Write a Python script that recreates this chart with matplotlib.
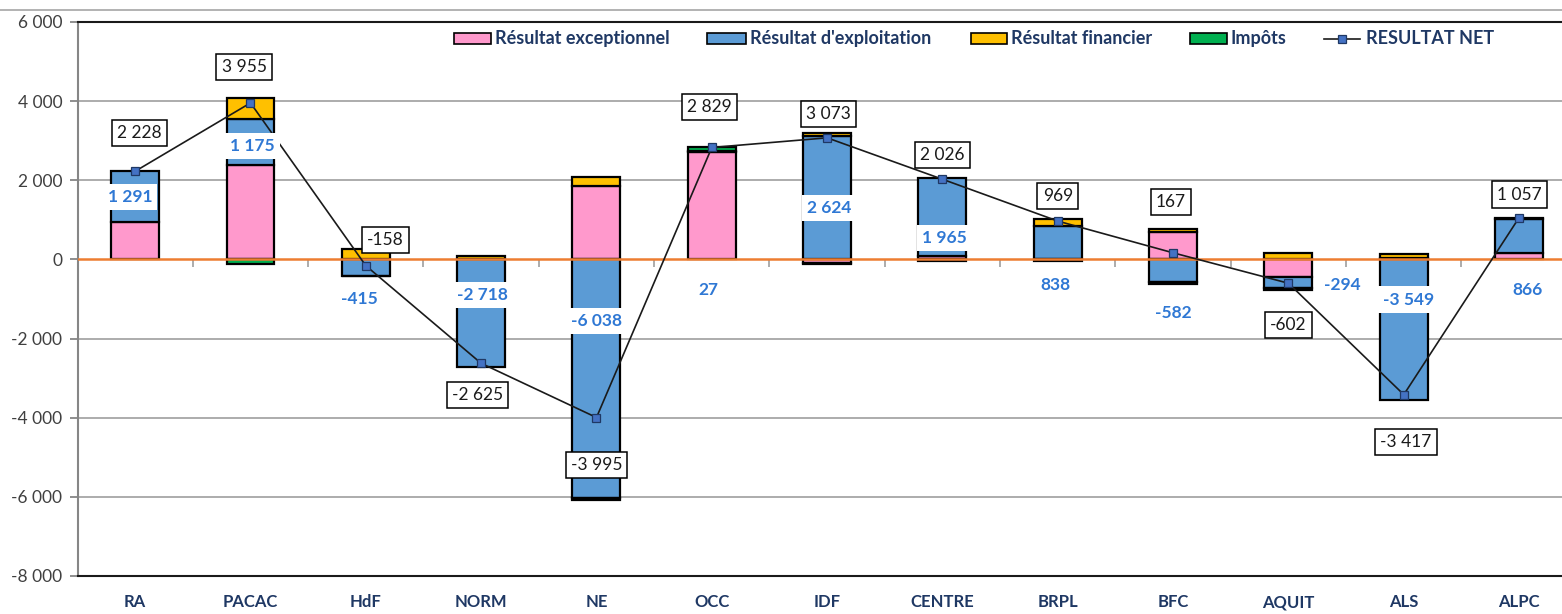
import matplotlib
matplotlib.use("Agg")
import matplotlib.pyplot as plt
import numpy as np
from matplotlib.patches import Rectangle
from matplotlib.lines import Line2D

# ---------------- data ----------------
categories = ["RA", "PACAC", "HdF", "NORM", "NE", "OCC", "IDF", "CENTRE",
              "BRPL", "BFC", "AQUIT", "ALS", "ALPC"]
exceptionnel = [937, 2380, 0, 0, 1850, 2720, -80, 90, 0, 700, -440, 40, 160]
exploitation = [1291, 1175, -415, -2718, -6038, 27, 3126, 1965, 838, -582, -294, -3549, 866]
exploitation_labels = [1291, 1175, -415, -2718, -6038, 27, 2624, 1965, 838, -582, -294, -3549, 866]
financier = [0, 520, 272, 93, 230, 0, 60, 0, 181, 80, 160, 92, 31]
impots = [0, -120, -15, 0, -37, 82, -33, -29, -50, -31, -28, 0, 0]
resultat_net = [2228, 3955, -158, -2625, -3995, 2829, 3073, 2026, 969, 167, -602, -3417, 1057]

# label layout (manual placements as in the original chart)
net_label_y = [3194, 4862, 490, -3427, -5196, 3851, 3675, 2638, 1602, 1451, -1658, -4613, 1640]
net_label_dx = [0.04, -0.055, 0.17, -0.03, 0, -0.02, 0.01, 0, 0, -0.02, 0, 0.02, 0]
expl_label_y = [1577, 2866, -1001, -900, -1557, -773, 1299, 541, -647, -1355, -645, -1013, -773]
expl_label_dx = [-0.045, 0.02, -0.055, 0.015, 0, -0.03, 0.02, 0.02, -0.02, 0, 0.47, 0.04, 0.07]

series_names = ["Résultat exceptionnel", "Résultat d'exploitation", "Résultat financier", "Impôts"]
series_colors = ["#FF99CC", "#5B9BD5", "#FFC000", "#00B050"]

FONT = ["Lato", "DejaVu Sans"]
plt.rcParams['font.family'] = FONT

W, H = 1562, 614
fig = plt.figure(figsize=(W / 100, H / 100), dpi=100)

ax_left_px, ax_top_px, ax_bottom_px = 77.5, 22, 576
cat_step_px = 115.33
ax = fig.add_axes([ax_left_px / W, 1 - ax_bottom_px / H,
                   (W - ax_left_px) / W, (ax_bottom_px - ax_top_px) / H])

n = len(categories)
x = np.arange(n)

# ---------------- stacked bars (Excel-style stacking) ----------------
pos = np.zeros(n)
neg = np.zeros(n)
for vals, col in zip([exceptionnel, exploitation, financier, impots], series_colors):
    v = np.array(vals, dtype=float)
    bottom = np.where(v >= 0, pos, neg)
    mask = v != 0
    ax.bar(x[mask], v[mask], bottom=bottom[mask], width=0.416, color=col,
           edgecolor="black", linewidth=1.6, zorder=2)
    pos += np.where(v > 0, v, 0)
    neg += np.where(v < 0, v, 0)

# zero line
ax.axhline(0, color="#ED7D31", lw=1.8, zorder=3)
# category boundary ticks on zero axis
ax.vlines(np.arange(n + 1) - 0.5, -200, 0, color="#A6A6A6", lw=1.3, zorder=1)

# net result line
ax.plot(x, resultat_net, color="#1A1A1A", lw=1.2, marker="s", ms=5.5,
        mfc="#4472C4", mec="#1F3864", mew=0.9, zorder=4)

# ---------------- labels ----------------
def fmt(v):
    return f"{v:,.0f}".replace(",", " ")

for i in range(n):
    ax.text(x[i] + net_label_dx[i], net_label_y[i], fmt(resultat_net[i]),
            ha="center", va="center", fontsize=12.5, color="#1A1A1A", zorder=6,
            bbox=dict(boxstyle="square,pad=0.3", fc="white", ec="black", lw=1.1))
    ax.text(x[i] + expl_label_dx[i], expl_label_y[i], fmt(exploitation_labels[i]),
            ha="center", va="center", fontsize=12.5, fontweight="bold", color="#2F78D4",
            zorder=5, bbox=dict(boxstyle="square,pad=0.3", fc="white", ec="none"))

# ---------------- axes styling ----------------
ax.set_xlim(-0.5, -0.5 + (W - ax_left_px) / cat_step_px)
ax.set_ylim(-8000, 6000)
yt = np.arange(-8000, 6001, 2000)
ax.set_yticks(yt)
ax.set_yticklabels([fmt(v) for v in yt], fontsize=12.5, color="#404040")
ax.set_xticks(x)
ax.set_xticklabels(categories, fontsize=12, fontweight="bold", color="#1F3864")
ax.tick_params(axis="x", length=0, pad=13)
ax.tick_params(axis="y", length=6, width=1.3, color="#868686", pad=5)

for yv in yt:
    if yv not in (-8000, 0, 6000):
        ax.axhline(yv, color="#A6A6A6", lw=1.3, zorder=0)

ax.spines["right"].set_visible(False)
ax.spines["top"].set_color("#1A1A1A")
ax.spines["top"].set_linewidth(1.5)
ax.spines["bottom"].set_color("#1A1A1A")
ax.spines["bottom"].set_linewidth(1.5)
ax.spines["left"].set_color("#868686")
ax.spines["left"].set_linewidth(1.5)

# outer chart border (top)
fig.add_artist(Line2D([0, 1], [1 - 10 / H, 1 - 10 / H], color="#A6A6A6", lw=1.2,
                      transform=fig.transFigure))

# ---------------- legend (manual) ----------------
def fx(px):
    return px / W

def fy(py):
    return 1 - py / H

leg_items = [(454, 491, 495), (707, 746, 750), (971, 1007, 1011), (1190, 1227, 1231)]
for (x0, x1, tx), col, name in zip(leg_items, series_colors, series_names):
    fig.add_artist(Rectangle((fx(x0), fy(44)), fx(x1) - fx(x0), fy(33) - fy(44),
                             fc=col, ec="black", lw=1.2, transform=fig.transFigure))
    fig.text(fx(tx), fy(38.5), name, ha="left", va="center", fontsize=13,
             fontweight="bold", color="#1F3864")
fig.add_artist(Line2D([fx(1324), fx(1360)], [fy(38.5), fy(38.5)], color="#1A1A1A", lw=1.2,
                      transform=fig.transFigure))
fig.add_artist(Line2D([fx(1342)], [fy(38.5)], marker="s", ms=5.5, mfc="#4472C4",
                      mec="#1F3864", mew=0.9, transform=fig.transFigure))
fig.text(fx(1366), fy(38.5), "RESULTAT NET", ha="left", va="center", fontsize=13,
         fontweight="bold", color="#1F3864")

fig.savefig("out.png", dpi=100)
